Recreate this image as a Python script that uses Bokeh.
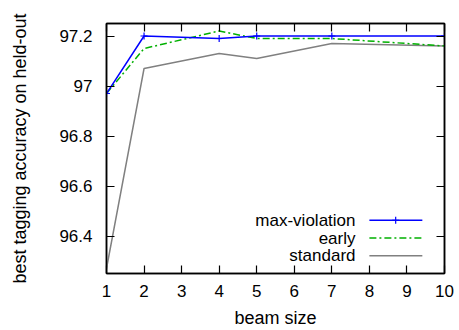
from bokeh.plotting import figure
from bokeh.models import LinearAxis, Range1d, FixedTicker, Label
from bokeh.embed import file_html
from bokeh.resources import INLINE

beam = [1, 2, 4, 5, 7, 10]
max_violation = [96.97, 97.20, 97.19, 97.20, 97.20, 97.20]
early = [96.97, 97.15, 97.22, 97.19, 97.19, 97.16]
standard = [96.27, 97.07, 97.13, 97.11, 97.17, 97.16]
series_names = ["max-violation", "early", "standard"]
x_ticks = [1, 2, 3, 4, 5, 6, 7, 8, 9, 10]
y_ticks = [96.4, 96.6, 96.8, 97.0, 97.2]
y_tick_labels = {96.4: "96.4", 96.6: "96.6", 96.8: "96.8", 97.0: "97", 97.2: "97.2"}

FONT = "Liberation Sans"
FS = "17px"
FS_AX = "18px"

p = figure(width=459, height=330, output_backend="svg", toolbar_location=None,
           x_range=Range1d(1, 10), y_range=Range1d(96.25, 97.25),
           min_border_left=106, min_border_right=15, min_border_top=23, min_border_bottom=53,
           x_axis_type=None, y_axis_type=None)
p.grid.visible = False
p.outline_line_color = "black"
p.outline_line_width = 1.5
p.background_fill_color = "white"
p.border_fill_color = "white"

def style(ax, labels=True):
    ax.major_tick_in = 8
    ax.major_tick_out = 0
    ax.minor_tick_line_color = None
    ax.axis_line_color = "black"
    ax.axis_line_width = 1.5
    ax.major_tick_line_width = 1.2
    ax.major_label_text_font = FONT
    ax.major_label_text_font_size = FS
    ax.major_label_text_color = "black" if labels else None
    ax.axis_label_text_font = FONT
    ax.axis_label_text_font_size = FS_AX
    ax.axis_label_text_font_style = "normal"
    ax.axis_label_text_color = "black"

xb = LinearAxis(ticker=FixedTicker(ticks=x_ticks), axis_label="beam size")
style(xb)
xb.major_label_standoff = 11
xb.axis_label_standoff = 8
p.add_layout(xb, "below")
xt = LinearAxis(ticker=FixedTicker(ticks=x_ticks))
style(xt, labels=False)
xt.major_label_text_font_size = "0px"
p.add_layout(xt, "above")

yl = LinearAxis(ticker=FixedTicker(ticks=y_ticks), axis_label="best tagging accuracy on held-out")
style(yl)
yl.major_label_overrides = y_tick_labels
yl.major_label_standoff = 14
yl.axis_label_standoff = 26
p.add_layout(yl, "left")
yr = LinearAxis(ticker=FixedTicker(ticks=y_ticks))
style(yr, labels=False)
yr.major_label_text_font_size = "0px"
p.add_layout(yr, "right")

BLUE = "#0000ff"
GREEN = "#00b000"
GRAY = "#808080"

p.line(beam, standard, line_color=GRAY, line_width=1.5)
p.line(beam, early, line_color=GREEN, line_width=1.5, line_dash="7 3 2 3")
p.line(beam, max_violation, line_color=BLUE, line_width=1.5)
p.scatter(beam, max_violation, marker="cross", size=7, line_color=BLUE, line_width=1.2)

# legend (label right-aligned, sample on the right)
leg_y = [96.463, 96.392, 96.321]
leg_colors = [BLUE, GREEN, GRAY]
leg_dash = ["solid", "7 3 2 3", "solid"]
for name, yy, c, d in zip(series_names, leg_y, leg_colors, leg_dash):
    p.add_layout(Label(x=7.63, y=yy, text=name, text_align="right", text_baseline="middle",
                       text_font=FONT, text_font_size=FS, text_color="black"))
    p.line([8.0, 9.41], [yy, yy], line_color=c, line_width=1.5, line_dash=d)
p.scatter([8.7], [leg_y[0]], marker="cross", size=7, line_color=BLUE, line_width=1.2)

open("out.html", "w").write(file_html(p, INLINE))
